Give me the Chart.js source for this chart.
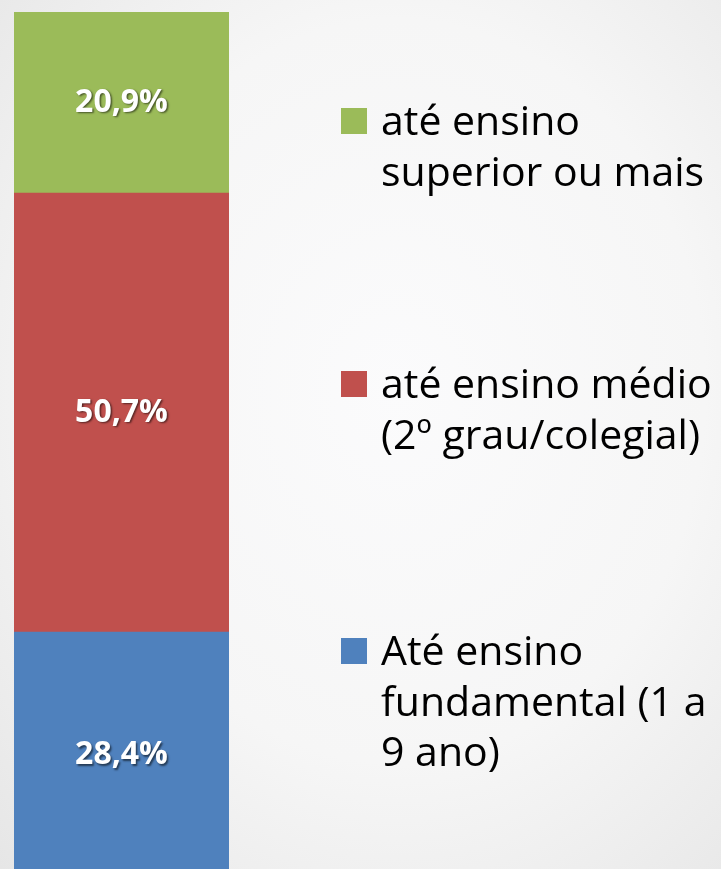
<!DOCTYPE html>
<html>
<head>
<meta charset="utf-8">
<script src="https://cdn.jsdelivr.net/npm/chart.js@4/dist/chart.umd.min.js"></script>
<style>
  html, body {
    margin: 0;
    padding: 0;
    width: 721px;
    height: 869px;
    overflow: hidden;
    background: radial-gradient(ellipse at 55% 45%, #fbfbfc 0%, #f6f6f6 55%, #e6e6e6 100%);
  }
  .chart__container {
    position: relative;
    width: 721px;
    height: 890px;
  }
</style>
</head>
<body>
<div class="chart__container">
  <canvas id="eduChart"></canvas>
</div>
<script>
// data (bottom to top of the stacked bar)
const categories = ['Escolaridade'];
const seriesNames = [
  'Até ensino fundamental (1 a 9 ano)',
  'até ensino médio (2º grau/colegial)',
  'até ensino superior ou mais'
];
const fundamentalValues = [28.4];
const medioValues = [50.7];
const superiorValues = [20.9];
// how the legend text wraps in the picture
const legendLines = [
  ['Até ensino', 'fundamental (1 a', '9 ano)'],
  ['até ensino médio', '(2º grau/colegial)'],
  ['até ensino', 'superior ou mais']
];
const seriesColors = ['#4f81bd', '#c0504d', '#9bbb59'];

// percentage labels in the middle of each segment
const segmentLabels = {
  id: 'segmentLabels',
  afterDatasetsDraw(chart) {
    const ctx = chart.ctx;
    ctx.save();
    ctx.font = 'bold 32px "Open Sans", sans-serif';
    ctx.textAlign = 'center';
    ctx.textBaseline = 'middle';
    ctx.fillStyle = '#ffffff';
    ctx.shadowColor = 'rgba(0,0,0,0.55)';
    ctx.shadowOffsetX = 1.5;
    ctx.shadowOffsetY = 1.5;
    ctx.shadowBlur = 2;
    chart.data.datasets.forEach((ds, i) => {
      chart.getDatasetMeta(i).data.forEach((bar, j) => {
        const mid = (bar.y + bar.base) / 2;
        const text = ds.data[j].toFixed(1).replace('.', ',') + '%';
        ctx.fillText(text, bar.x, mid);
      });
    });
    ctx.restore();
  }
};

// legend on the right, wrapped like the original
const sideLegend = {
  id: 'sideLegend',
  afterDraw(chart) {
    const ctx = chart.ctx;
    const boxX = 341, textX = 381, box = 26;
    const firstBaselines = [135, 398, 665];
    const lineGap = 50.5;
    ctx.save();
    ctx.font = '41px "Open Sans", sans-serif';
    ctx.textAlign = 'left';
    ctx.textBaseline = 'alphabetic';
    // legend top to bottom is the reverse of the stack order
    for (let k = 0; k < 3; k++) {
      const idx = 2 - k;
      const base = firstBaselines[k];
      ctx.fillStyle = seriesColors[idx];
      ctx.fillRect(boxX, base - box - 1, box, box);
      ctx.fillStyle = '#000000';
      legendLines[idx].forEach((line, n) => {
        ctx.fillText(line, textX, base + n * lineGap);
      });
    }
    ctx.restore();
  }
};

const ctx = document.getElementById('eduChart').getContext('2d');
new Chart(ctx, {
  type: 'bar',
  data: {
    labels: categories,
    datasets: [
      { label: seriesNames[0], data: fundamentalValues, backgroundColor: seriesColors[0] },
      { label: seriesNames[1], data: medioValues, backgroundColor: seriesColors[1] },
      { label: seriesNames[2], data: superiorValues, backgroundColor: seriesColors[2] }
    ]
  },
  options: {
    responsive: true,
    maintainAspectRatio: false,
    animation: false,
    layout: { padding: { left: 14, right: 492, top: 12, bottom: 12 } },
    datasets: { bar: { barPercentage: 1, categoryPercentage: 1, borderWidth: 0 } },
    scales: {
      x: { stacked: true, display: false },
      y: { stacked: true, display: false, min: 0, max: 100 }
    },
    plugins: {
      legend: { display: false },
      tooltip: { enabled: false }
    }
  },
  plugins: [segmentLabels, sideLegend]
});
</script>
</body>
</html>
